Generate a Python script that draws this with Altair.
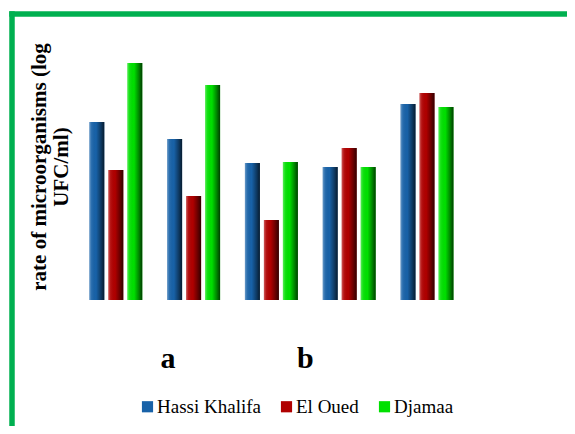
import altair as alt
import pandas as pd

# ---- data (arbitrary log UFC/ml units) ----
groups = ["1", "2", "3", "4", "5"]
series = ["Hassi Khalifa", "El Oued", "Djamaa"]
hassi_khalifa = [5.93, 5.37, 4.57, 4.43, 6.53]
el_oued = [4.33, 3.47, 2.67, 5.07, 6.90]
djamaa = [7.90, 7.17, 4.60, 4.43, 6.43]
colors = ["#1862a8", "#b00000", "#00e000"]
title_lines = ["rate of microorganisms (log", "UFC/ml)"]
letters = ["a", "b"]
letter_groups = ["2", "3"]

rows = []
for name, vals in zip(series, [hassi_khalifa, el_oued, djamaa]):
    for g, v in zip(groups, vals):
        rows.append({"group": g, "site": name, "value": v})
df = pd.DataFrame(rows)

W, H = 555, 412
BORDER = "#00b050"
SERIF = "Liberation Serif"

x_scale = alt.Scale(domain=groups, paddingInner=0.319, paddingOuter=0.1595,
                    range=[64.9, 453.9], round=False)
xo_scale = alt.Scale(domain=series, paddingInner=0.21, paddingOuter=0, round=False)
y_scale = alt.Scale(domain=[-4.2, 9.533], zero=False, nice=False)

base = alt.Chart(df).encode(
    x=alt.X("group:N", scale=x_scale, axis=None, sort=groups),
    xOffset=alt.XOffset("site:N", scale=xo_scale, sort=series),
    y=alt.Y("value:Q", scale=y_scale, axis=None),
)

bars = base.mark_bar().encode(
    color=alt.Color(
        "site:N",
        scale=alt.Scale(domain=series, range=colors),
        sort=series,
        legend=alt.Legend(
            title=None, orient="none", direction="horizontal",
            legendX=126, legendY=383, symbolType="square", symbolSize=125,
            symbolStrokeWidth=0, labelFont=SERIF, labelFontSize=19,
            labelColor="#000000", labelOffset=0, columnPadding=16, padding=0,
        ),
    )
)

shade = base.mark_bar(
    color=alt.LinearGradient(
        gradient="linear", x1=0, x2=1, y1=0, y2=0,
        stops=[
            alt.GradientStop(offset=0, color="rgba(255,255,255,0.35)"),
            alt.GradientStop(offset=0.15, color="rgba(255,255,255,0.08)"),
            alt.GradientStop(offset=0.45, color="rgba(0,0,0,0)"),
            alt.GradientStop(offset=0.75, color="rgba(0,0,0,0.38)"),
            alt.GradientStop(offset=1, color="rgba(0,0,0,0.72)"),
        ],
    )
)

letter_df = pd.DataFrame({"group": letter_groups, "letter": letters})
letter_a = alt.Chart(letter_df.iloc[[0]]).mark_text(
    font=SERIF, fontSize=30, fontWeight="bold", baseline="alphabetic",
    align="center", dx=-25.5, color="#000000"
).encode(x=alt.X("group:N", scale=x_scale, axis=None, sort=groups),
         y=alt.value(354), text="letter:N")
letter_b = alt.Chart(letter_df.iloc[[1]]).mark_text(
    font=SERIF, fontSize=30, fontWeight="bold", baseline="alphabetic",
    align="center", dx=34, color="#000000"
).encode(x=alt.X("group:N", scale=x_scale, axis=None, sort=groups),
         y=alt.value(354), text="letter:N")

one = alt.Data(values=[{"t": 0}])
ytitle = alt.Chart(one).mark_text(
    text=title_lines, angle=270, font=SERIF, fontSize=21,
    fontWeight="bold", align="center", baseline="middle", lineHeight=22,
    color="#000000"
).encode(x=alt.value(28), y=alt.value(153))

left_border = alt.Chart(one).mark_rule(color=BORDER, strokeWidth=5.5).encode(
    x=alt.value(0), y=alt.value(-2.75), y2=alt.value(H)
)
top_border = alt.Chart(one).mark_rule(color=BORDER, strokeWidth=5.5).encode(
    y=alt.value(0), x=alt.value(-2.75), x2=alt.value(W)
)

chart = alt.layer(
    bars, shade, letter_a, letter_b, ytitle, left_border, top_border
).properties(
    width=W, height=H,
    autosize=alt.AutoSizeParams(type="none"),
    padding={"left": 4, "top": 6, "right": 0, "bottom": 0},
    background="#ffffff",
).configure_view(stroke=None).configure_legend(
    labelFont=SERIF, labelFontSize=19, labelColor="#000000"
)

chart.save("out.html", embed_options={"renderer": "svg", "actions": False})
